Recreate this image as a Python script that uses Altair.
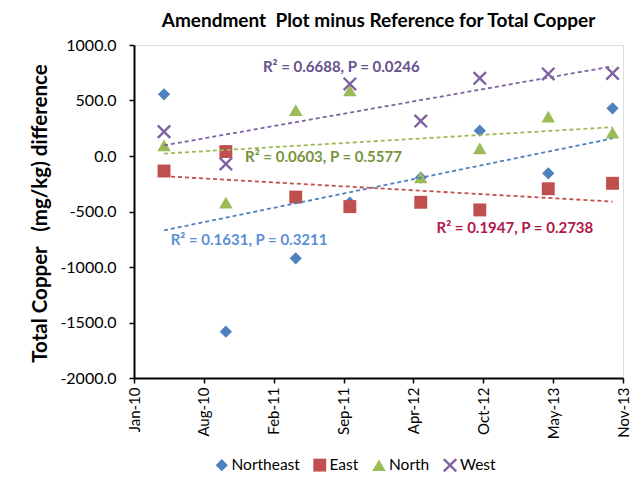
import altair as alt
import pandas as pd

# ---- data ----
dates = ["2010-04-18", "2010-10-12", "2011-04-30", "2011-10-02",
         "2012-04-22", "2012-10-08", "2013-04-22", "2013-10-23"]
series_names = ["Northeast", "East", "North", "West"]
northeast = [556, -1583, -922, -420, -195, 228, -156, 430]
east = [-135, 40, -370, -456, -417, -486, -295, -246]
north = [95, -420, 414, 590, -192, 69, 354, 210]
west = [219, -72, None, 649, 315, 700, 739, 745]

marker_colors = ["#4F81BD", "#C0504D", "#9BBB59", "#8064A2"]

# R^2 / P annotations (anchor = excel serial date, value)
ann_text = ["R\u00b2 = 0.6688, P = 0.0246", "R\u00b2 = 0.0603, P = 0.5577",
            "R\u00b2 = 0.1631, P = 0.3211", "R\u00b2 = 0.1947, P = 0.2738"]
ann_x = [40569, 40518, 40305, 41066]
ann_y = [802, -6, -757, -649]
ann_color = ["#65518C", "#77933C", "#5B8FD6", "#B0184A"]

x_ticks = [40200, 40400, 40600, 40800, 41000, 41200, 41400, 41600]
y_ticks = [-2000, -1500, -1000, -500, 0, 500, 1000]

FONT = "Lato"

# ---- build table ----
serial = [(pd.Timestamp(d) - pd.Timestamp("1899-12-30")).days for d in dates]
rows = []
for name, vals in zip(series_names, [northeast, east, north, west]):
    for s, v in zip(serial, vals):
        if v is not None:
            rows.append({"series": name, "serial": s, "value": v})
df = pd.DataFrame(rows)

ann = pd.DataFrame({"text": ann_text, "serial": ann_x, "value": ann_y, "color": ann_color})

x_scale = alt.Scale(domain=[40200, 41600], nice=False, zero=False)
y_scale = alt.Scale(domain=[-2000, 1000], nice=False)

x_axis = alt.Axis(values=x_ticks, title=None, grid=False,
                  labelExpr="utcFormat((datum.value - 25569) * 86400000, '%b-%y')",
                  labelAngle=-90, labelAlign="right", labelBaseline="middle",
                  labelPadding=4, tickSize=5, labelFontSize=15, labelFont=FONT,
                  labelColor="black", domainColor="black", domainWidth=2,
                  tickColor="black", tickWidth=1.5)
y_axis = alt.Axis(values=y_ticks, grid=False,
                  labelExpr="replace(format(datum.value, '.1f'), '\u2212', '-')",
                  title="Total Copper\u00a0\u00a0 (mg/kg) difference",
                  titleX=-94, titleY=168, titleAngle=270, titleAlign="center",
                  titleBaseline="middle", titleFontSize=20.5, titleFont=FONT,
                  titleFontWeight="bold", titleColor="black",
                  labelPadding=13, tickSize=5, labelFontSize=16, labelFont=FONT,
                  labelColor="black", domainColor="black", domainWidth=2,
                  tickColor="black", tickWidth=1.5)

X_PATH = ("M-1,-0.76L-0.24,0L-1,0.76L-0.76,1L0,0.24L0.76,1L1,0.76L0.24,0"
          "L1,-0.76L0.76,-1L0,-0.24L-0.76,-1Z")

base = alt.Chart(df)

points = base.mark_point(filled=True, opacity=1).encode(
    x=alt.X("serial:Q", scale=x_scale, axis=x_axis),
    y=alt.Y("value:Q", scale=y_scale, axis=y_axis),
    color=alt.Color("series:N",
                    scale=alt.Scale(domain=series_names, range=marker_colors),
                    legend=alt.Legend(title=None, orient="none", direction="horizontal",
                                      legendX=80, legendY=412, symbolSize=70,
                                      labelFontSize=15.5, labelFont=FONT,
                                      labelColor="black",
                                      labelOffset=2, columnPadding=12)),
    shape=alt.Shape("series:N",
                    scale=alt.Scale(domain=series_names,
                                    range=["diamond", "square", "triangle-up", X_PATH])),
    size=alt.Size("series:N",
                  scale=alt.Scale(domain=series_names, range=[150, 200, 200, 170]),
                  legend=None),
)

lines = []
for name, col in zip(series_names, marker_colors):
    lines.append(
        alt.Chart(df).transform_filter(alt.datum.series == name)
        .transform_regression("serial", "value")
        .mark_line(strokeDash=[4, 3], strokeWidth=1.8)
        .encode(x=alt.X("serial:Q", scale=x_scale),
                y=alt.Y("value:Q", scale=y_scale),
                stroke=alt.value(col))
    )

labels = alt.Chart(ann).mark_text(align="left", baseline="middle", font=FONT,
                                  fontWeight="bold", fontSize=15).encode(
    x=alt.X("serial:Q", scale=x_scale),
    y=alt.Y("value:Q", scale=y_scale),
    text="text:N",
    color=alt.Color("color:N", scale=None),
)

chart = alt.layer(points, *lines, labels).properties(
    width=489, height=333,
    autosize=alt.AutoSizeParams(type="none"),
    padding={"left": 126, "top": 37, "right": 13, "bottom": 100},
    title=alt.TitleParams("Amendment\u00a0 Plot minus Reference for Total Copper",
                          anchor="middle", fontSize=19, font=FONT,
                          fontWeight="bold", color="black", offset=6),
).configure_view(stroke=None).configure(background="white")

chart.save("out.html", embed_options={"renderer": "svg", "actions": False})
